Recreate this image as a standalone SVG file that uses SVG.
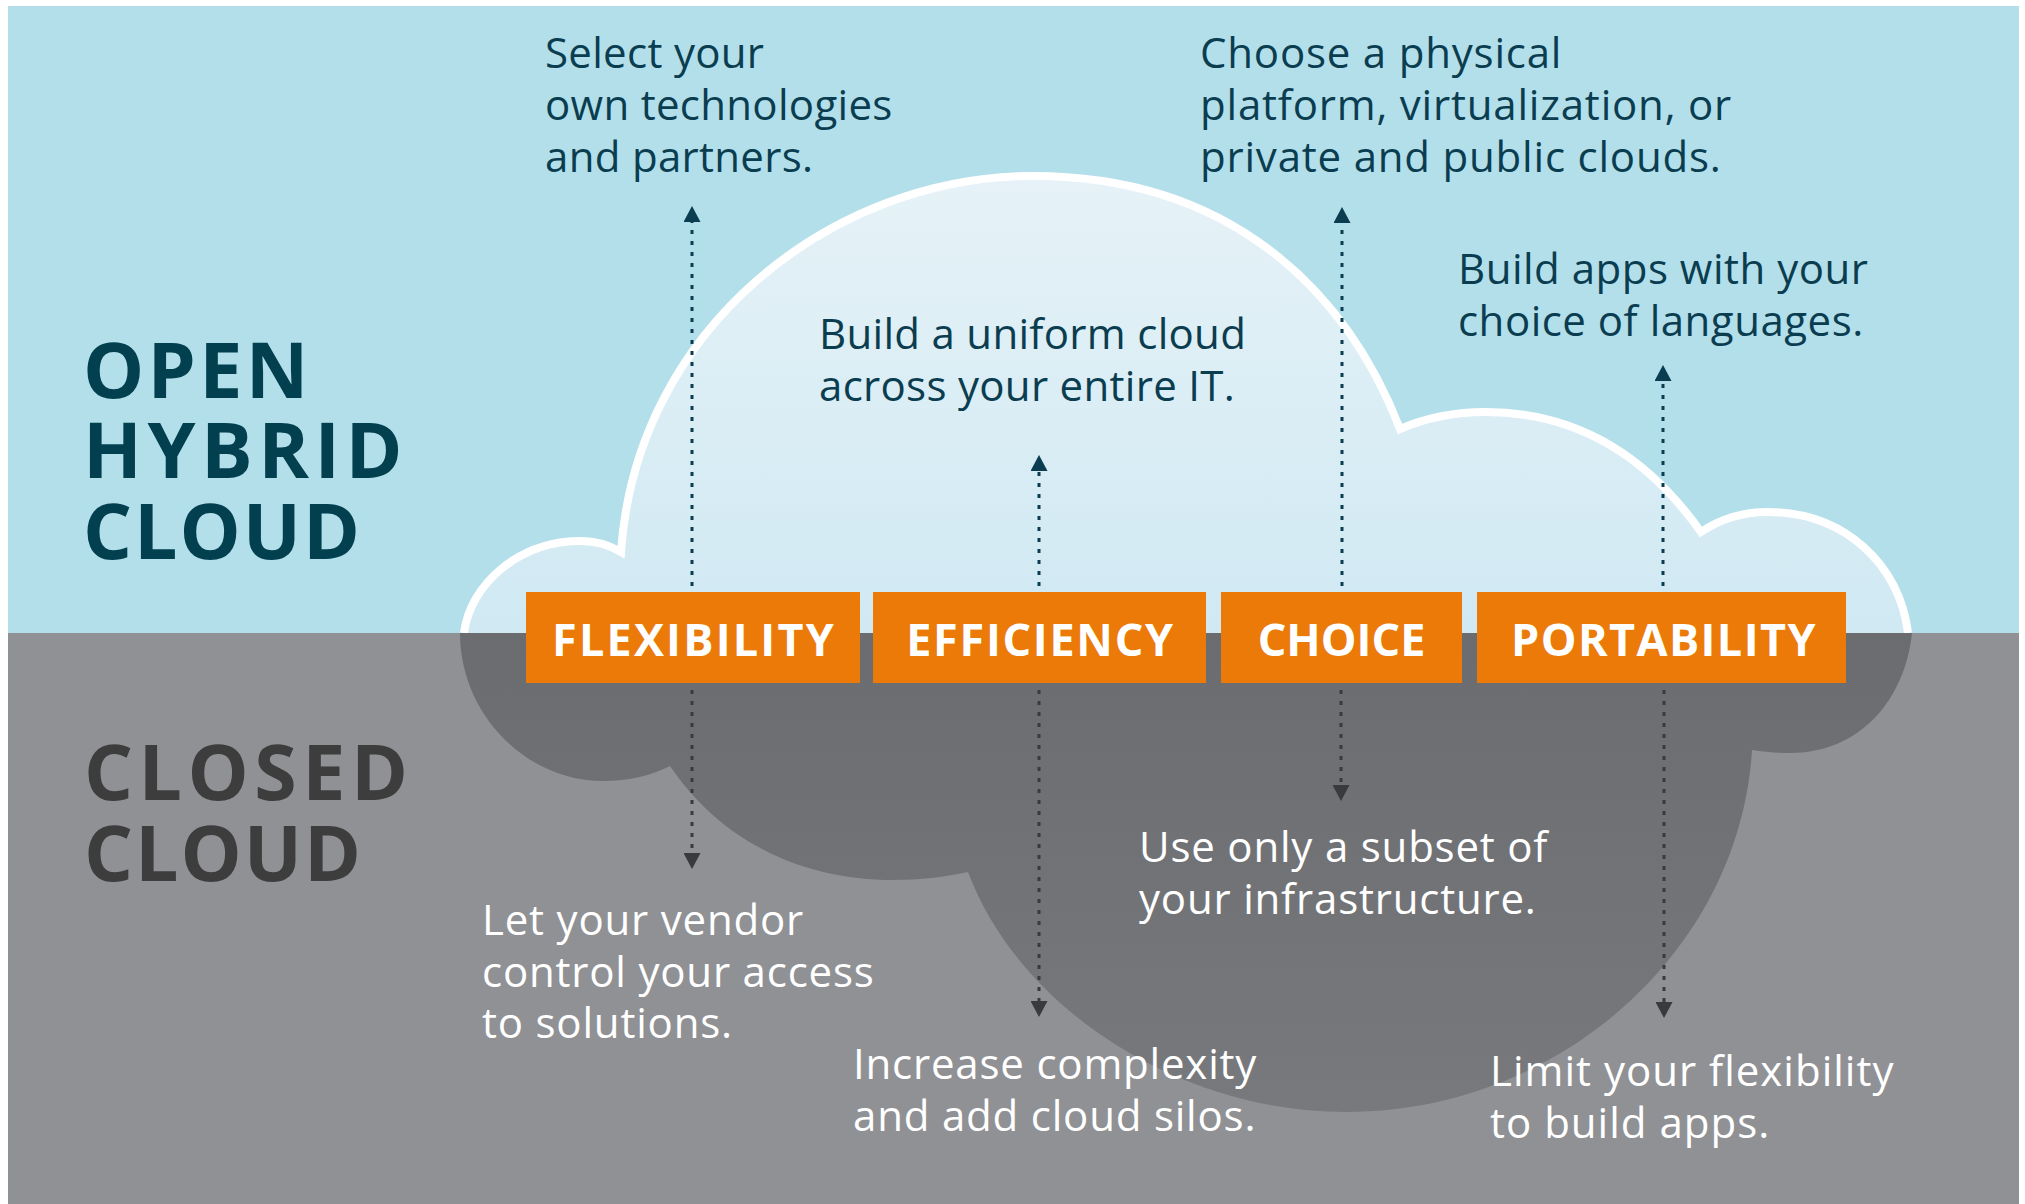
<svg xmlns="http://www.w3.org/2000/svg" width="2025" height="1204" viewBox="0 0 2025 1204">
<style>
.head{font-family:"Open Sans","Liberation Sans",sans-serif;font-weight:700;font-size:77px;letter-spacing:5.5px}
.open{fill:#03404f}
.closed{fill:#3d3d3e}
.lbl{font-family:"Open Sans","Liberation Sans",sans-serif;font-weight:700;font-size:45px;fill:#ffffff;text-anchor:middle;letter-spacing:2.2px}
.box{fill:#ec7a08}
.txt{font-family:"Open Sans","Liberation Sans",sans-serif;font-size:42px;letter-spacing:0.8px}
.up{fill:#0b3d50}
.down{fill:#ffffff}
.cu{stroke:#0b3d50;stroke-width:3;stroke-dasharray:4 7;fill:none;marker-end:url(#au)}
.cd{stroke:#3a3a3c;stroke-width:3;stroke-dasharray:4 7;fill:none;marker-end:url(#ad)}
</style>
<defs>
<linearGradient id="lg" x1="0" y1="172" x2="0" y2="633" gradientUnits="userSpaceOnUse">
<stop offset="0" stop-color="#e6f2f7"/>
<stop offset="1" stop-color="#d0e9f3"/>
</linearGradient>
<linearGradient id="dg" x1="0" y1="633" x2="0" y2="1112" gradientUnits="userSpaceOnUse">
<stop offset="0" stop-color="#6b6c70"/>
<stop offset="1" stop-color="#78797d"/>
</linearGradient>
<marker id="au" viewBox="0 0 16 17" refX="0" refY="8.5" markerWidth="16" markerHeight="17" markerUnits="userSpaceOnUse" orient="auto">
<path d="M0,0 L16,8.5 L0,17 Z" fill="#0b3d50"/>
</marker>
<marker id="ad" viewBox="0 0 16 17" refX="0" refY="8.5" markerWidth="16" markerHeight="17" markerUnits="userSpaceOnUse" orient="auto">
<path d="M0,0 L16,8.5 L0,17 Z" fill="#3a3a3c"/>
</marker>
</defs>
<rect x="0" y="0" width="2025" height="1204" fill="#ffffff"/>
<rect x="8" y="6" width="2011" height="627" fill="#b3dfeb"/>
<rect x="8" y="633" width="2011" height="571" fill="#909195"/>
<g id="open-cloud">
<path d="M464,633 C470,585 518,541 581,541 C596,541 609,545 621,552 C636,330 830,176 1033,176 C1230,176 1346,290 1400,429 C1430,416 1460,412 1486,412 C1580,412 1650,460 1701,532 C1722,518 1745,512 1767,512 C1845,512 1900,565 1908,633 Z" fill="url(#lg)"/>
<path d="M464,633 C470,585 518,541 581,541 C596,541 609,545 621,552 C636,330 830,176 1033,176 C1230,176 1346,290 1400,429 C1430,416 1460,412 1486,412 C1580,412 1650,460 1701,532 C1722,518 1745,512 1767,512 C1845,512 1900,565 1908,633" fill="none" stroke="#ffffff" stroke-width="8" stroke-miterlimit="10"/>
</g>
<g id="closed-cloud">
<path d="M460,633 C460,713 525,781 603,781 C630,781 652,775 670,766 C720,840 800,880 893,880 C920,880 945,877 968,872 C1020,1010 1180,1112 1346,1112 C1560,1112 1740,950 1752,750 C1765,752 1775,753 1790,753 C1860,753 1905,700 1912,633 Z" fill="url(#dg)"/>
</g>
<g id="title-open">
<text class="head open"><tspan x="83" y="398" style="letter-spacing:3.3px">OPEN</tspan><tspan x="83" y="478">HYBRID</tspan><tspan x="83" y="559" style="letter-spacing:2px">CLOUD</tspan></text>
</g>
<g id="title-closed">
<text class="head closed"><tspan x="84" y="800">CLOSED</tspan><tspan x="84" y="881" style="letter-spacing:2px">CLOUD</tspan></text>
</g>
<g id="connectors">
<line class="cu" x1="692" y1="586" x2="692" y2="222"/>
<line class="cu" x1="1039" y1="586" x2="1039" y2="471"/>
<line class="cu" x1="1342" y1="586" x2="1342" y2="223"/>
<line class="cu" x1="1663" y1="586" x2="1663" y2="381"/>
<line class="cd" x1="692" y1="690" x2="692" y2="853"/>
<line class="cd" x1="1039" y1="690" x2="1039" y2="1001"/>
<line class="cd" x1="1341" y1="690" x2="1341" y2="785"/>
<line class="cd" x1="1664" y1="690" x2="1664" y2="1002"/>
</g>
<g id="flexibility">
<rect class="box" x="526" y="592" width="334" height="91"/>
<text class="lbl" x="694" y="656">FLEXIBILITY</text>
</g>
<g id="efficiency">
<rect class="box" x="873" y="592" width="333" height="91"/>
<text class="lbl" x="1040.5" y="656" style="letter-spacing:1.7px">EFFICIENCY</text>
</g>
<g id="choice">
<rect class="box" x="1221" y="592" width="241" height="91"/>
<text class="lbl" x="1341.5" y="656" style="letter-spacing:0">CHOICE</text>
</g>
<g id="portability">
<rect class="box" x="1477" y="592" width="369" height="91"/>
<text class="lbl" x="1664" y="656" style="letter-spacing:1.4px">PORTABILITY</text>
</g>
<g id="note-flexibility-open">
<text class="txt up" x="545" y="68" style="letter-spacing:0.3px">Select your</text>
<text class="txt up" x="545" y="120" style="letter-spacing:0.3px">own technologies</text>
<text class="txt up" x="545" y="172" style="letter-spacing:0.3px">and partners.</text>
</g>
<g id="note-choice-open">
<text class="txt up" x="1200" y="68">Choose a physical</text>
<text class="txt up" x="1200" y="120">platform, virtualization, or</text>
<text class="txt up" x="1200" y="172">private and public clouds.</text>
</g>
<g id="note-efficiency-open">
<text class="txt up" x="819" y="349" style="letter-spacing:0.3px">Build a uniform cloud</text>
<text class="txt up" x="819" y="401" style="letter-spacing:0.3px">across your entire IT.</text>
</g>
<g id="note-portability-open">
<text class="txt up" x="1458" y="284" style="letter-spacing:0.5px">Build apps with your</text>
<text class="txt up" x="1458" y="336" style="letter-spacing:0.5px">choice of languages.</text>
</g>
<g id="note-flexibility-closed">
<text class="txt down" x="482" y="935">Let your vendor</text>
<text class="txt down" x="482" y="987">control your access</text>
<text class="txt down" x="482" y="1038">to solutions.</text>
</g>
<g id="note-efficiency-closed">
<text class="txt down" x="853" y="1079">Increase complexity</text>
<text class="txt down" x="853" y="1131">and add cloud silos.</text>
</g>
<g id="note-choice-closed">
<text class="txt down" x="1139" y="862">Use only a subset of</text>
<text class="txt down" x="1139" y="914">your infrastructure.</text>
</g>
<g id="note-portability-closed">
<text class="txt down" x="1490" y="1086" style="letter-spacing:1px">Limit your flexibility</text>
<text class="txt down" x="1490" y="1138" style="letter-spacing:1px">to build apps.</text>
</g>
</svg>
